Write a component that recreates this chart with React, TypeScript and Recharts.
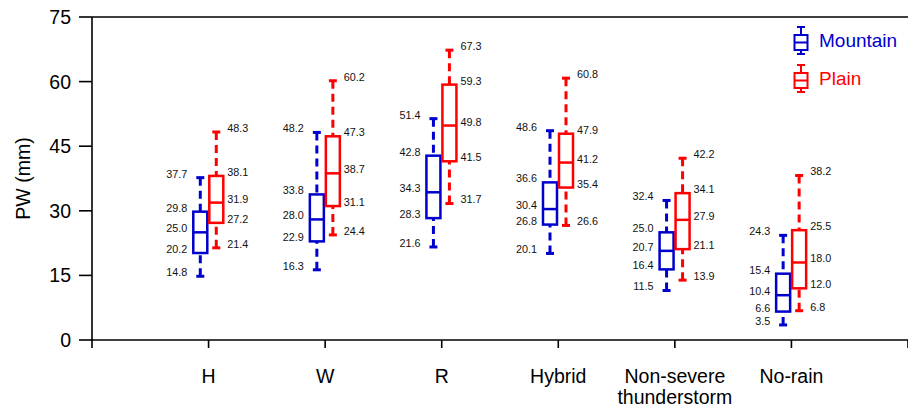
import React from 'react';
import { ComposedChart, Bar, XAxis, YAxis } from 'recharts';

const categories = ['H', 'W', 'R', 'Hybrid', 'Non-severe thunderstorm', 'No-rain'];

const mountainMin = [14.8, 16.3, 21.6, 20.1, 11.5, 3.5];
const mountainQ1 = [20.2, 22.9, 28.3, 26.8, 16.4, 6.6];
const mountainMedian = [25.0, 28.0, 34.3, 30.4, 20.7, 10.4];
const mountainQ3 = [29.8, 33.8, 42.8, 36.6, 25.0, 15.4];
const mountainMax = [37.7, 48.2, 51.4, 48.6, 32.4, 24.3];

const plainMin = [21.4, 24.4, 31.7, 26.6, 13.9, 6.8];
const plainQ1 = [27.2, 31.1, 41.5, 35.4, 21.1, 12.0];
const plainMedian = [31.9, 38.7, 49.8, 41.2, 27.9, 18.0];
const plainQ3 = [38.1, 47.3, 59.3, 47.9, 34.1, 25.5];
const plainMax = [48.3, 60.2, 67.3, 60.8, 42.2, 38.2];

const yTicks = [0, 15, 30, 45, 60, 75];
const xTicks = [0, 1, 2, 3, 4, 5, 6, 7];

const MOUNTAIN = '#0000cc';
const PLAIN = '#ff0000';
const FONT = '"Liberation Sans", Arial, Helvetica, sans-serif';

const data = categories.map((cat, i) => ({
  pos: i + 1,
  cat,
  mountain: { min: mountainMin[i], q1: mountainQ1[i], med: mountainMedian[i], q3: mountainQ3[i], max: mountainMax[i] },
  plain: { min: plainMin[i], q1: plainQ1[i], med: plainMedian[i], q3: plainQ3[i], max: plainMax[i] },
}));

function BoxPlot(props: any) {
  const { x, y, width, height, series, color, side } = props;
  const row = props.payload && props.payload[series] ? props.payload : data[props.index];
  const s = row[series];
  const top = Math.min(y, y + height);
  const k = Math.abs(height) / (s.max - s.min);
  const py = (v: number) => top + (s.max - v) * k;
  const cx = x + width / 2;
  const cap = 4;
  const lx = side === 'left' ? x - 6 : x + width + 4;
  const vals = [s.max, s.q3, s.med, s.q1, s.min];
  return (
    <g>
      <line x1={cx} x2={cx} y1={py(s.max)} y2={py(s.q3)} stroke={color} strokeWidth={3} strokeDasharray="8 5" />
      <line x1={cx} x2={cx} y1={py(s.min)} y2={py(s.q1)} stroke={color} strokeWidth={3} strokeDasharray="8 5" />
      <line x1={cx - cap} x2={cx + cap} y1={py(s.max)} y2={py(s.max)} stroke={color} strokeWidth={3} />
      <line x1={cx - cap} x2={cx + cap} y1={py(s.min)} y2={py(s.min)} stroke={color} strokeWidth={3} />
      <rect x={x} y={py(s.q3)} width={width} height={py(s.q1) - py(s.q3)} fill="#fff" stroke={color} strokeWidth={2.5} />
      <line x1={x} x2={x + width} y1={py(s.med)} y2={py(s.med)} stroke={color} strokeWidth={2.5} />
      {vals.map((v, i) => (
        <text
          key={i}
          x={lx}
          y={py(v)}
          textAnchor={side === 'left' ? 'end' : 'start'}
          fontSize={10.8}
          fontFamily={FONT}
          fill="#111"
        >
          {v.toFixed(1)}
        </text>
      ))}
    </g>
  );
}

function CategoryTick({ x, y, payload }: any) {
  const name = categories[payload.value - 1];
  if (!name) return null;
  const lines = name.split(' ');
  return (
    <text x={x} y={y} textAnchor="middle" fontSize={19.5} fontFamily={FONT} fill="#000">
      {lines.map((l, i) => (
        <tspan key={i} x={x} dy={i === 0 ? 33 : 21}>
          {l}
        </tspan>
      ))}
    </text>
  );
}

function LegendIcon({ color, top }: { color: string; top: number }) {
  return (
    <svg width={16} height={32} style={{ position: 'absolute', left: 793, top }}>
      <line x1={4} x2={12} y1={2} y2={2} stroke={color} strokeWidth={2} />
      <line x1={8} x2={8} y1={2} y2={10} stroke={color} strokeWidth={2} />
      <rect x={1.5} y={10} width={13} height={15} fill="none" stroke={color} strokeWidth={2} />
      <line x1={1.5} x2={14.5} y1={17.5} y2={17.5} stroke={color} strokeWidth={2} />
      <line x1={8} x2={8} y1={25} y2={29} stroke={color} strokeWidth={2} />
      <line x1={4} x2={12} y1={29} y2={29} stroke={color} strokeWidth={2} />
    </svg>
  );
}

const axisStyle = { stroke: '#000', strokeWidth: 1.6 };

export default function App() {
  return (
    <div style={{ position: 'absolute', left: 0, top: 0, width: 908, height: 409, background: '#fff' }}>
      <ComposedChart width={908} height={409} data={data} margin={{ top: 7, right: 0, bottom: 0, left: 0 }} barGap={2}>
        <XAxis
          dataKey="pos"
          type="number"
          domain={[0, 7]}
          ticks={xTicks}
          interval={0}
          tickSize={8}
          tickMargin={2}
          height={69}
          axisLine={axisStyle}
          tickLine={axisStyle}
          tick={<CategoryTick />}
        />
        <XAxis
          xAxisId="top"
          orientation="top"
          dataKey="pos"
          type="number"
          domain={[0, 7]}
          ticks={xTicks}
          interval={0}
          tickSize={8}
          height={10}
          axisLine={axisStyle}
          tickLine={axisStyle}
          tick={false}
        />
        <YAxis
          domain={[0, 75]}
          ticks={yTicks}
          interval={0}
          width={92}
          tickSize={13}
          tickMargin={8}
          axisLine={axisStyle}
          tickLine={axisStyle}
          tick={{ fontSize: 19.5, fill: '#000', fontFamily: FONT }}
          label={{
            value: 'PW (mm)',
            angle: -90,
            position: 'insideLeft',
            offset: 23,
            style: { textAnchor: 'middle', fontSize: 19.5, fill: '#000', fontFamily: FONT },
          }}
        />
        <Bar
          dataKey={(d: any) => [d.mountain.min, d.mountain.max]}
          barSize={14}
          isAnimationActive={false}
          shape={(p: any) => <BoxPlot {...p} series="mountain" color={MOUNTAIN} side="left" />}
        />
        <Bar
          dataKey={(d: any) => [d.plain.min, d.plain.max]}
          barSize={14}
          isAnimationActive={false}
          shape={(p: any) => <BoxPlot {...p} series="plain" color={PLAIN} side="right" />}
        />
      </ComposedChart>
      <LegendIcon color={MOUNTAIN} top={25} />
      <LegendIcon color={PLAIN} top={63} />
      <span style={{ position: 'absolute', left: 819, top: 31, fontSize: 19, lineHeight: 1, fontFamily: FONT, color: MOUNTAIN }}>
        Mountain
      </span>
      <span style={{ position: 'absolute', left: 819, top: 69, fontSize: 19, lineHeight: 1, fontFamily: FONT, color: PLAIN }}>
        Plain
      </span>
    </div>
  );
}
